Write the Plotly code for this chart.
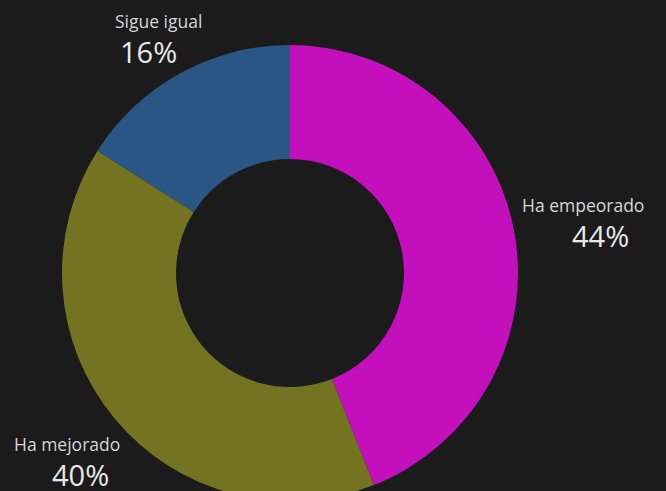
import plotly.graph_objects as go

labels = ["Ha empeorado", "Ha mejorado", "Sigue igual"]
values = [44, 40, 16]
colors = ["#c40fbd", "#737322", "#2a5686"]
pct_text = ["44%", "40%", "16%"]

BG = "#1b1b1b"
W, H = 666, 501          # canvas slightly taller than window: donut is cropped at the bottom
L, T, S = 62, 45, 456     # plot area left, top, size (square)

fig = go.Figure(
    go.Pie(
        labels=labels,
        values=values,
        hole=0.5,
        sort=False,
        direction="clockwise",
        rotation=0,
        marker=dict(colors=colors, line=dict(width=0)),
        textinfo="none",
        hoverinfo="label+percent",
        showlegend=False,
        domain=dict(x=[0, 1], y=[0, 1]),
    )
)

# label centres in pixels (label x, label y, pct x, pct y)
label_pos = [(583, 205, 600, 235), (67, 444, 80, 474), (158, 21, 148, 51)]


def px_to_paper(x, y):
    return (x - L) / S, 1 - (y - T) / S


for lab, pct, (lx, ly, qx, qy) in zip(labels, pct_text, label_pos):
    ax, ay = px_to_paper(lx, ly)
    bx, by = px_to_paper(qx, qy)
    fig.add_annotation(x=ax, y=ay, xref="paper", yref="paper",
                       xanchor="center", yanchor="middle",
                       text=lab, showarrow=False,
                       font=dict(family="Open Sans", size=17.5, color="#d6d6d6"))
    fig.add_annotation(x=bx, y=by, xref="paper", yref="paper",
                       xanchor="center", yanchor="middle",
                       text=pct, showarrow=False,
                       font=dict(family="Open Sans", size=29, color="#e8e8e8"))

fig.update_layout(
    width=W, height=H,
    paper_bgcolor=BG, plot_bgcolor=BG,
    margin=dict(l=L, r=W - L - S, t=T, b=H - T - S, autoexpand=False),
)

fig.write_html(
    "out.html",
    config={"displayModeBar": False},
    post_script=(
        "document.body.style.margin='0';"
        "document.body.style.overflow='hidden';"
        "document.documentElement.style.overflow='hidden';"
        "document.documentElement.style.background='#1b1b1b';"
    ),
)
